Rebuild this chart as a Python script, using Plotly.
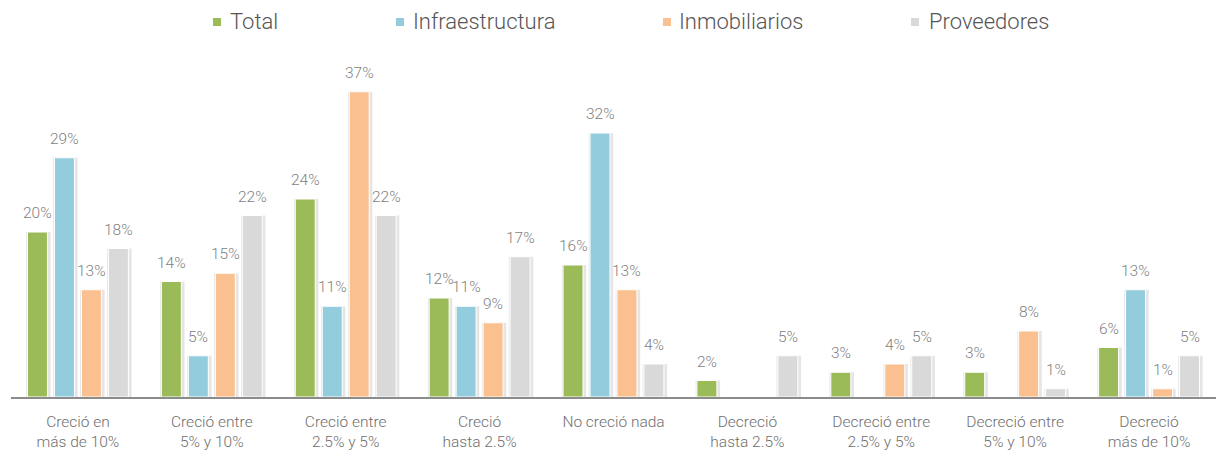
import plotly.graph_objects as go

# Response categories (x axis) and share of respondents per group (%)
categories = [
    "Creció en<br>más de 10%",
    "Creció entre<br>5% y 10%",
    "Creció entre<br>2.5% y 5%",
    "Creció<br>hasta 2.5%",
    "No creció nada",
    "Decreció<br>hasta 2.5%",
    "Decreció entre<br>2.5% y 5%",
    "Decreció entre<br>5% y 10%",
    "Decreció<br>más de 10%",
]
total = [20, 14, 24, 12, 16, 2, 3, 3, 6]
infraestructura = [29, 5, 11, 11, 32, None, None, None, 13]
inmobiliarios = [13, 15, 37, 9, 13, None, 4, 8, 1]
proveedores = [18, 22, 22, 17, 4, 5, 5, 1, 5]

series = [
    ("Total", total, "#9BBB59"),
    ("Infraestructura", infraestructura, "#93CDDD"),
    ("Inmobiliarios", inmobiliarios, "#FAC090"),
    ("Proveedores", proveedores, "#D9D9D9"),
]

FONT = "Roboto, 'Helvetica Neue', Arial, sans-serif"
W, H = 1221, 450
ML, MR, MT, MB = 11, 5, 67, 53
x_idx = list(range(len(categories)))

pitch = 0.2015      # distance between bars inside a group (category units)
bar_w = 0.149       # bar width (category units)
shadow_w = bar_w + 0.034

fig = go.Figure()
annotations = []
for k, (name, vals, color) in enumerate(series):
    center = (k - 1.5) * pitch
    # soft drop shadow behind each bar
    fig.add_trace(go.Bar(
        x=x_idx, y=vals, width=shadow_w, offset=center - shadow_w / 2 + 0.007,
        marker=dict(color="rgba(0,0,0,0.10)", line=dict(width=0)),
        showlegend=False, hoverinfo="skip",
    ))
    fig.add_trace(go.Bar(
        x=x_idx, y=vals, width=bar_w, offset=center - bar_w / 2, name=name,
        marker=dict(color=color, line=dict(color="white", width=1)),
        showlegend=False,
    ))
    for i, v in enumerate(vals):
        if v is None:
            continue
        annotations.append(dict(
            x=i + center, y=v, xref="x", yref="y", text=f"{v}%",
            showarrow=False, yanchor="bottom", xanchor="center", yshift=8,
            font=dict(family=FONT, size=15.5, color="#7f7f7f", weight=300),
        ))

# Legend row across the top
legend_pos = [(217, 228), (400, 411), (667, 677), (915, 927)]
shapes = []
for (name, _, color), (mx, tx) in zip(series, legend_pos):
    shapes.append(dict(
        type="rect", xref="paper", yref="paper",
        x0=(mx - 4 - ML) / (W - ML - MR), x1=(mx + 4 - ML) / (W - ML - MR),
        y0=(H - MB - 26) / (H - MT - MB), y1=(H - MB - 18) / (H - MT - MB),
        fillcolor=color, line=dict(width=0),
    ))
    annotations.append(dict(
        x=(tx - ML) / (W - ML - MR), y=(H - MB - 22) / (H - MT - MB),
        xref="paper", yref="paper", text=name, showarrow=False,
        xanchor="left", yanchor="middle",
        font=dict(family=FONT, size=22, color="#555555", weight=300),
    ))

fig.update_layout(
    width=W, height=H,
    margin=dict(l=ML, r=MR, t=MT, b=MB, autoexpand=False),
    paper_bgcolor="white", plot_bgcolor="white",
    barmode="overlay",
    showlegend=False,
    annotations=annotations,
    shapes=shapes,
    xaxis=dict(
        range=[-0.5, len(categories) - 0.5], automargin=False,
        tickmode="array", tickvals=x_idx, ticktext=categories,
        showgrid=False, zeroline=False,
        showline=True, linecolor="#8c8c8c", linewidth=2,
        ticks="", ticklabelstandoff=9,
        tickfont=dict(family=FONT, size=15.5, color="#6f6f6f", weight=300),
    ),
    yaxis=dict(
        range=[0, 40], visible=False, showgrid=False, zeroline=False,
        automargin=False,
    ),
)

fig.write_html("out.html")
